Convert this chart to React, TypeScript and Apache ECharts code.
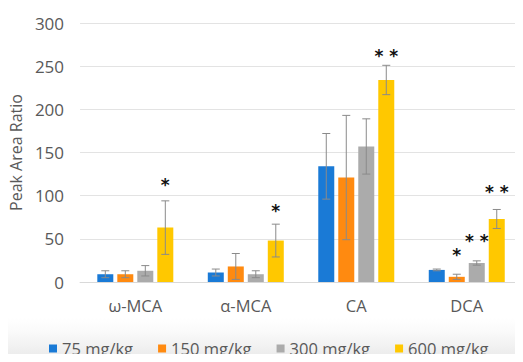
import React, { useEffect, useRef } from "react";
import * as echarts from "echarts";

const categories = ["ω-MCA", "α-MCA", "CA", "DCA"];
const seriesNames = ["75 mg/kg", "150 mg/kg", "300 mg/kg", "600 mg/kg"];
const colors = ["#1a7ad6", "#ff8a10", "#ababab", "#ffc800"];

const means = [
  [9, 11, 134, 14],
  [9, 18, 121, 6],
  [13, 9, 157, 22],
  [63, 48, 234, 73],
];
const errors = [
  [4, 4, 38, 1],
  [4, 15, 72, 3],
  [6, 4, 32, 2.5],
  [31, 19, 17, 11],
];
// significance markers: series index, category index, label, value position
const starSeries = [3, 3, 3, 1, 2, 3];
const starCats = [0, 1, 2, 3, 3, 3];
const starLabels = ["*", "*", "* *", "*", "* *", "* *"];
const starValues = [112, 82, 262, 31, 48, 104];

const yTicks = { min: 0, max: 300, interval: 50 };
const BAR_W = 16;
const STEP = 20;

export default function App() {
  const ref = useRef<HTMLDivElement>(null);
  useEffect(() => {
    const chart = echarts.init(ref.current!, null, { renderer: "svg" });
    const font = "'Open Sans', 'Noto Sans', sans-serif";
    const barSeries = seriesNames.map((name, i) => ({
      name,
      type: "bar",
      data: means[i],
      barWidth: BAR_W,
      barGap: "25%",
      itemStyle: { color: colors[i] },
      z: 2,
    }));
    const errSeries = seriesNames.map((name, i) => ({
      name: name + "-err",
      type: "custom",
      z: 5,
      data: categories.map((_, c) => [c, means[i][c], errors[i][c]]),
      renderItem: (params: any, api: any) => {
        const c = api.value(0);
        const m = api.value(1);
        const e = api.value(2);
        const top = api.coord([c, m + e]);
        const bot = api.coord([c, Math.max(0, m - e)]);
        const x = top[0] + (i - 1.5) * STEP;
        const st = { stroke: "#8a8a8a", lineWidth: 1 };
        return {
          type: "group",
          children: [
            { type: "line", shape: { x1: x, y1: top[1], x2: x, y2: bot[1] }, style: st },
            { type: "line", shape: { x1: x - 4, y1: top[1], x2: x + 4, y2: top[1] }, style: st },
            { type: "line", shape: { x1: x - 4, y1: bot[1], x2: x + 4, y2: bot[1] }, style: st },
          ],
        };
      },
      encode: { x: 0, y: 1 },
      silent: true,
    }));
    const starSeriesDef = {
      name: "stars",
      type: "custom",
      z: 6,
      data: starCats.map((c, k) => [c, starValues[k], starSeries[k], k]),
      renderItem: (params: any, api: any) => {
        const c = api.value(0);
        const v = api.value(1);
        const s = api.value(2);
        const k = api.value(3);
        const p = api.coord([c, v]);
        return {
          type: "text",
          x: p[0] + (s - 1.5) * STEP,
          y: p[1],
          style: {
            text: starLabels[k],
            fill: "#111",
            font: "bold 17px 'DejaVu Sans', sans-serif",
            align: "center",
            verticalAlign: "middle",
          },
        };
      },
      encode: { x: 0, y: 1 },
      silent: true,
    };
    chart.setOption({
      animation: false,
      backgroundColor: "#ffffff",
      graphic: [
        {
          type: "rect",
          z: -10,
          shape: { x: 0, y: 318, width: 523, height: 44 },
          style: {
            fill: new echarts.graphic.LinearGradient(
              0, 318, 0, 362,
              [
                { offset: 0, color: "#ffffff" },
                { offset: 0.3, color: "#fafafa" },
                { offset: 1, color: "#e8e8e8" },
              ],
              true
            ),
          },
          silent: true,
        },
      ],
      grid: { left: 78, right: 1, top: 23, bottom: 80 },
      legend: {
        data: seriesNames,
        left: 44,
        top: 335,
        itemWidth: 8,
        itemHeight: 8,
        itemGap: 25,
        icon: "rect",
        textStyle: { color: "#595959", fontSize: 16.5, fontFamily: font },
      },
      xAxis: {
        type: "category",
        data: categories,
        axisLine: { show: true, lineStyle: { color: "#d9d9d9" } },
        axisTick: { show: false },
        axisLabel: { color: "#595959", fontSize: 16.5, fontFamily: font, margin: 15 },
      },
      yAxis: {
        type: "value",
        min: yTicks.min,
        max: yTicks.max,
        interval: yTicks.interval,
        name: "Peak Area Ratio",
        nameLocation: "middle",
        nameGap: 56,
        nameTextStyle: { color: "#595959", fontSize: 16, fontFamily: font },
        axisLine: { show: false },
        axisTick: { show: false },
        axisLabel: { color: "#595959", fontSize: 17, fontFamily: font, margin: 16 },
        splitLine: { lineStyle: { color: "#e3e3e3", width: 1 } },
      },
      series: [...barSeries, ...errSeries, starSeriesDef],
    });
    return () => chart.dispose();
  }, []);
  return <div ref={ref} style={{ width: 523, height: 362, margin: -8 }} />;
}
